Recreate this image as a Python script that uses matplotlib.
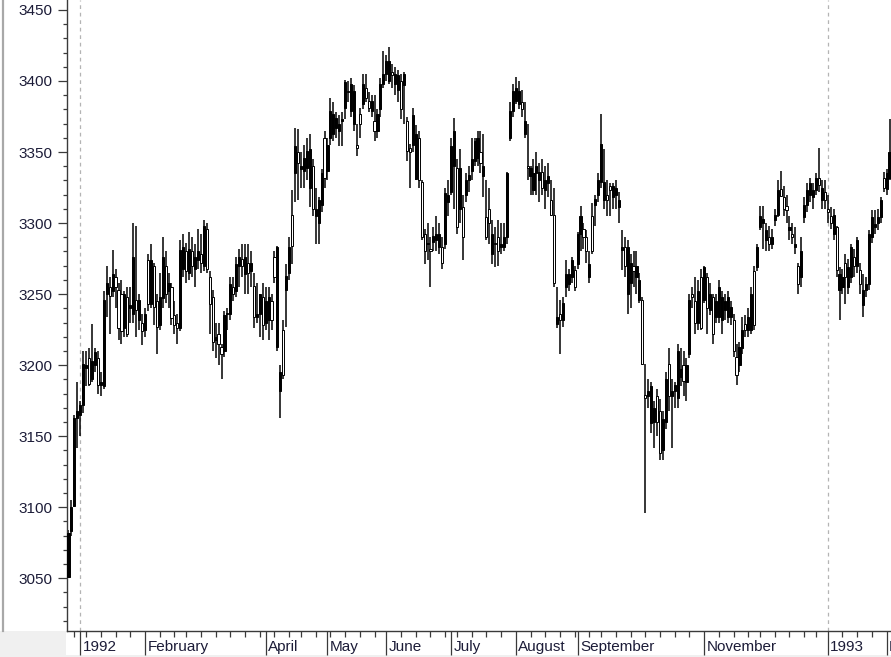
import matplotlib
matplotlib.use("Agg")
import matplotlib.pyplot as plt
from matplotlib.patches import Rectangle
import numpy as np
import pandas as pd

# Daily OHLC, 26 Dec 1991 .. 2 Feb 1993 (one line per month)
opens = [
    3051, 3083, 3101, 3163,
    3165, 3172, 3198, 3205, 3190, 3200, 3205, 3186, 3185, 3250, 3255, 3252, 3262, 3253, 3250, 3226, 3248, 3240, 3236, 3246, 3232, 3230,
    3225, 3274, 3243, 3270, 3245, 3228, 3247, 3270, 3252, 3255, 3235, 3230, 3226, 3268, 3280, 3265, 3280, 3268, 3274,
    3278, 3270, 3296, 3262, 3248, 3218, 3222, 3213, 3210, 3236, 3236, 3255, 3252, 3270, 3275, 3264, 3272, 3266, 3256, 3234, 3236, 3248,
    3230, 3232, 3245, 3276, 3213, 3182, 3225, 3253, 3265, 3306, 3335, 3350, 3338, 3337, 3339, 3325, 3340, 3305, 3300, 3313, 3360,
    3337, 3360, 3363, 3367, 3365, 3372, 3381, 3393, 3379, 3370, 3355, 3377, 3384, 3395, 3386, 3379, 3372, 3365, 3380, 3398,
    3405, 3400, 3406, 3398, 3394, 3400, 3397, 3372, 3353, 3355, 3331, 3360, 3329, 3292, 3285, 3282, 3287, 3288, 3283, 3283, 3285, 3315,
    3322, 3340, 3339, 3310, 3311, 3320, 3330, 3337, 3344, 3346, 3350, 3333, 3304, 3310, 3278, 3286, 3290, 3283, 3283, 3290, 3360, 3379,
    3386, 3384, 3385, 3363, 3340, 3333, 3323, 3335, 3330, 3336, 3323, 3328, 3316, 3306, 3229, 3236, 3232, 3255, 3257, 3262, 3267,
    3271, 3292, 3296, 3290, 3262, 3305, 3313, 3320, 3329, 3316, 3320, 3326, 3318, 3320, 3311, 3281, 3283, 3250, 3258, 3270, 3262,
    3246, 3246, 3179, 3178, 3159, 3160, 3178, 3168, 3140, 3160, 3201, 3178, 3182, 3177, 3192, 3200, 3188, 3208, 3250, 3245, 3230, 3262,
    3246, 3262, 3239, 3248, 3234, 3234, 3232, 3239, 3234, 3234, 3232, 3206, 3200, 3212, 3229, 3225, 3225, 3266, 3269, 3297,
    3300, 3288, 3290, 3285, 3302, 3306, 3324, 3318, 3312, 3295, 3292, 3283, 3270, 3262, 3304, 3313, 3320, 3318, 3323, 3332, 3316, 3322,
    3310, 3305, 3292, 3297, 3253, 3255, 3272, 3255, 3262, 3276, 3270, 3267, 3242, 3253, 3257, 3290, 3297, 3300, 3304, 3332,
    3324, 3332,
]
highs = [
    3084, 3105, 3165, 3188,
    3175, 3210, 3210, 3212, 3229, 3212, 3210, 3195, 3252, 3270, 3262, 3281, 3268, 3258, 3260, 3252, 3255, 3255, 3300, 3298, 3250, 3236,
    3240, 3278, 3285, 3272, 3250, 3265, 3290, 3280, 3265, 3258, 3245, 3236, 3288, 3292, 3286, 3294, 3290, 3285, 3296,
    3292, 3302, 3300, 3266, 3253, 3230, 3230, 3215, 3238, 3240, 3262, 3262, 3276, 3282, 3285, 3285, 3285, 3280, 3265, 3258, 3250, 3258,
    3255, 3255, 3250, 3280, 3284, 3200, 3232, 3271, 3290, 3323, 3367, 3366, 3350, 3355, 3360, 3363, 3345, 3325, 3318, 3338, 3365,
    3360, 3388, 3385, 3378, 3376, 3378, 3401, 3400, 3402, 3397, 3370, 3381, 3405, 3405, 3392, 3390, 3390, 3380, 3402, 3421,
    3418, 3424, 3412, 3410, 3408, 3405, 3406, 3375, 3356, 3381, 3369, 3365, 3330, 3296, 3300, 3290, 3297, 3305, 3300, 3290, 3325, 3330,
    3360, 3374, 3345, 3352, 3320, 3335, 3340, 3360, 3360, 3365, 3365, 3363, 3330, 3325, 3302, 3297, 3302, 3300, 3300, 3336, 3385, 3398,
    3403, 3400, 3394, 3385, 3370, 3340, 3345, 3350, 3342, 3345, 3340, 3342, 3330, 3325, 3255, 3246, 3248, 3274, 3268, 3276, 3270,
    3294, 3312, 3300, 3295, 3280, 3314, 3320, 3335, 3377, 3352, 3330, 3328, 3328, 3330, 3322, 3295, 3290, 3288, 3278, 3280, 3280,
    3265, 3248, 3201, 3190, 3188, 3175, 3183, 3176, 3168, 3195, 3212, 3190, 3188, 3215, 3212, 3210, 3205, 3250, 3255, 3262, 3260, 3268,
    3270, 3265, 3258, 3250, 3250, 3260, 3252, 3250, 3252, 3245, 3236, 3215, 3216, 3234, 3235, 3240, 3255, 3270, 3285, 3312,
    3312, 3300, 3298, 3296, 3310, 3330, 3337, 3326, 3320, 3305, 3300, 3297, 3272, 3290, 3318, 3328, 3332, 3328, 3335, 3353, 3330, 3330,
    3320, 3311, 3310, 3298, 3269, 3268, 3278, 3275, 3285, 3282, 3290, 3272, 3264, 3262, 3295, 3309, 3309, 3310, 3318, 3336,
    3338, 3373,
]
lows = [
    3050, 3080, 3100, 3142,
    3150, 3166, 3185, 3185, 3188, 3195, 3180, 3178, 3183, 3234, 3222, 3248, 3240, 3218, 3215, 3220, 3220, 3230, 3230, 3220, 3225, 3214,
    3220, 3238, 3240, 3228, 3208, 3225, 3240, 3244, 3240, 3228, 3222, 3215, 3224, 3262, 3258, 3260, 3262, 3255, 3268,
    3265, 3266, 3265, 3222, 3210, 3205, 3200, 3190, 3206, 3225, 3232, 3245, 3248, 3255, 3262, 3250, 3250, 3255, 3226, 3230, 3220, 3218,
    3225, 3218, 3225, 3258, 3210, 3163, 3190, 3227, 3260, 3271, 3315, 3316, 3325, 3325, 3330, 3311, 3305, 3285, 3285, 3308, 3325,
    3330, 3355, 3358, 3360, 3354, 3354, 3373, 3385, 3375, 3365, 3347, 3360, 3380, 3385, 3378, 3375, 3358, 3360, 3375, 3395,
    3400, 3398, 3395, 3390, 3385, 3373, 3370, 3344, 3325, 3350, 3330, 3325, 3288, 3271, 3274, 3255, 3280, 3280, 3278, 3268, 3282, 3305,
    3320, 3310, 3292, 3300, 3274, 3315, 3322, 3330, 3340, 3340, 3335, 3318, 3288, 3285, 3271, 3269, 3270, 3278, 3280, 3285, 3358, 3375,
    3384, 3380, 3375, 3360, 3330, 3320, 3320, 3320, 3315, 3320, 3310, 3318, 3305, 3255, 3226, 3208, 3227, 3248, 3252, 3258, 3252,
    3268, 3280, 3282, 3272, 3258, 3278, 3298, 3315, 3325, 3310, 3305, 3305, 3310, 3310, 3300, 3267, 3262, 3236, 3240, 3255, 3250,
    3244, 3200, 3096, 3170, 3152, 3142, 3150, 3133, 3133, 3155, 3168, 3142, 3170, 3170, 3185, 3178, 3175, 3205, 3240, 3222, 3225, 3225,
    3244, 3222, 3235, 3215, 3230, 3230, 3222, 3232, 3230, 3228, 3206, 3186, 3195, 3208, 3220, 3220, 3222, 3225, 3266, 3295,
    3282, 3280, 3280, 3282, 3298, 3304, 3318, 3305, 3300, 3288, 3285, 3278, 3250, 3255, 3300, 3308, 3315, 3310, 3320, 3322, 3310, 3310,
    3300, 3296, 3288, 3262, 3232, 3250, 3243, 3250, 3258, 3262, 3265, 3250, 3234, 3248, 3253, 3286, 3292, 3295, 3300, 3322,
    3320, 3330,
]
closes = [
    3082, 3100, 3163, 3168,
    3172, 3201, 3200, 3187, 3203, 3209, 3186, 3188, 3246, 3258, 3249, 3264, 3255, 3226, 3224, 3250, 3222, 3242, 3276, 3239, 3246, 3224,
    3236, 3243, 3274, 3241, 3227, 3248, 3276, 3250, 3258, 3233, 3228, 3226, 3281, 3283, 3266, 3282, 3270, 3276, 3280,
    3272, 3298, 3268, 3243, 3216, 3220, 3215, 3208, 3235, 3237, 3257, 3250, 3271, 3276, 3270, 3276, 3265, 3272, 3234, 3236, 3250, 3228,
    3245, 3248, 3232, 3262, 3283, 3195, 3193, 3263, 3283, 3284, 3354, 3342, 3340, 3346, 3351, 3352, 3310, 3310, 3316, 3335, 3332,
    3355, 3379, 3377, 3374, 3370, 3373, 3399, 3392, 3398, 3393, 3353, 3370, 3398, 3388, 3381, 3386, 3365, 3377, 3398, 3405,
    3414, 3414, 3404, 3405, 3404, 3380, 3405, 3351, 3350, 3376, 3363, 3330, 3290, 3280, 3286, 3280, 3291, 3292, 3292, 3272, 3321, 3320,
    3354, 3365, 3297, 3339, 3290, 3330, 3334, 3345, 3358, 3360, 3342, 3340, 3290, 3300, 3292, 3285, 3280, 3285, 3290, 3335, 3379, 3393,
    3395, 3393, 3380, 3372, 3339, 3339, 3335, 3340, 3336, 3325, 3330, 3333, 3306, 3258, 3234, 3232, 3244, 3264, 3264, 3274, 3255,
    3292, 3305, 3290, 3280, 3271, 3280, 3317, 3330, 3356, 3329, 3316, 3323, 3326, 3325, 3316, 3283, 3270, 3283, 3272, 3266, 3270,
    3260, 3201, 3177, 3182, 3185, 3170, 3160, 3138, 3162, 3190, 3178, 3182, 3186, 3210, 3197, 3189, 3200, 3246, 3248, 3230, 3252, 3226,
    3269, 3240, 3250, 3222, 3245, 3255, 3248, 3245, 3248, 3241, 3210, 3193, 3213, 3225, 3225, 3234, 3250, 3228, 3283, 3305,
    3303, 3295, 3285, 3290, 3306, 3323, 3319, 3310, 3309, 3297, 3290, 3285, 3257, 3280, 3313, 3323, 3328, 3323, 3332, 3327, 3325, 3316,
    3308, 3300, 3306, 3267, 3264, 3262, 3262, 3269, 3283, 3270, 3288, 3257, 3253, 3257, 3292, 3304, 3299, 3304, 3316, 3325,
    3335, 3350,
]

holidays = ['1991-12-25', '1992-01-01', '1992-02-17', '1992-04-17', '1992-05-25',
            '1992-07-03', '1992-09-07', '1992-11-26', '1992-12-25', '1993-01-01']
dates = pd.bdate_range('1991-12-26', '1993-02-02', freq='C', holidays=holidays)

label_dates = ['1992-01-02', '1992-02-03', '1992-04-01', '1992-05-01', '1992-06-01', '1992-07-01',
               '1992-08-03', '1992-09-01', '1992-11-02', '1993-01-04', '1993-02-01']
label_texts = ['1992', 'February', 'April', 'May', 'June', 'July',
               'August', 'September', 'November', '1993', 'February']
year_dates = ['1992-01-02', '1993-01-04']

o = np.array(opens, float)
h = np.array(highs, float)
l = np.array(lows, float)
c = np.array(closes, float)
x = np.arange(len(dates))

plt.rcParams['font.family'] = ['Liberation Sans', 'DejaVu Sans']

fig = plt.figure(figsize=(8.91, 6.57), dpi=100)
W, H = 891, 657
ax = fig.add_axes([67 / W, 26 / H, 1 - 67 / W + 0.001, 1 - 26 / H])

# window frame bits
fig.patches.append(Rectangle((0, 0), 66 / W, 26 / H, transform=fig.transFigure,
                             facecolor='#f0f0f0', edgecolor='none', zorder=-1))
fig.patches.append(Rectangle((0, 0), 1, 2 / H, transform=fig.transFigure,
                             facecolor='#f0f0f0', edgecolor='none', zorder=-1))
fig.lines.append(plt.Line2D([2.5 / W, 2.5 / W], [26 / H, 1], transform=fig.transFigure,
                            color='#a8a8a8', lw=1.6))

# year separators
for d in year_dates:
    ax.axvline(dates.get_loc(pd.Timestamp(d)), color='#b4b4b4', lw=0.9,
               ls=(0, (3, 3)), zorder=0)

# candles
up = c >= o
ax.vlines(x, l, h, color='black', lw=1.1, zorder=2)
body_h = np.maximum(np.abs(c - o), 0.8)
ax.bar(x, body_h, bottom=np.minimum(o, c), width=0.72,
       color=np.where(up, 'black', 'white'), edgecolor='black', linewidth=0.7, zorder=3)

ax.set_xlim(-0.5, 279.8)
ax.set_ylim(3012.9, 3457)

for s in ['top', 'right']:
    ax.spines[s].set_visible(False)
for s in ['left', 'bottom']:
    ax.spines[s].set_color('#3a3a3a')
    ax.spines[s].set_linewidth(1.0)

# y axis ticks
ax.set_yticks(np.arange(3050, 3451, 50))
ax.set_yticks(np.arange(3020, 3451, 10), minor=True)
ax.tick_params(axis='y', which='major', length=6.5, width=0.9, color='#3a3a3a',
               pad=4, labelsize=11, labelcolor='#1c1c38')
ax.tick_params(axis='y', which='minor', length=3.2, width=0.9, color='#3a3a3a')

# x axis ticks: majors at labelled months, minors at first trading day of each week
major_idx = [dates.get_loc(pd.Timestamp(d)) for d in label_dates]
wk = dates.to_period('W')
week_idx = [i for i in range(1, len(dates)) if wk[i] != wk[i - 1]]
ax.set_xticks(major_idx)
ax.set_xticks([i for i in week_idx if i not in major_idx], minor=True)
ax.tick_params(axis='x', which='major', length=17.5, width=0.9, color='#3a3a3a', labelbottom=False)
ax.tick_params(axis='x', which='minor', length=4.0, width=0.9, color='#3a3a3a')

for i, t in zip(major_idx, label_texts):
    ax.annotate(t, xy=(i, 0), xycoords=('data', 'axes fraction'), xytext=(2.5, -16),
                textcoords='offset pixels', ha='left', va='center', fontsize=11,
                color='#1c1c38', annotation_clip=False)

fig.savefig('out.png', dpi=100)
